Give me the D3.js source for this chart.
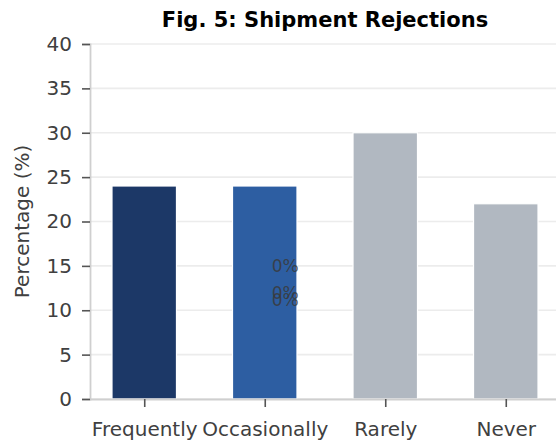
<!DOCTYPE html>
<html>
<head>
<meta charset="utf-8">
<script src="https://cdn.jsdelivr.net/npm/d3@7/dist/d3.min.js"></script>
<style>
  html, body { margin: 0; padding: 0; background: #fff; }
  svg { display: block; font-family: "DejaVu Sans", sans-serif; }
</style>
</head>
<body>
<svg id="chart" width="556" height="443"></svg>
<script>
// Shares of respondents by how often shipments are rejected
const categories = ["Frequently", "Occasionally", "Rarely", "Never"];
const values = [24, 24, 30, 22];
const barColors = ["#1c3867", "#2d5ea2", "#b1b8c1", "#b1b8c1"];
const yTicks = [0, 5, 10, 15, 20, 25, 30, 35, 40];

// Stray percentage annotations (category offset, value)
const noteX = [1.17, 1.17, 1.17];
const noteY = [15, 12, 11.2];
const noteText = ["0%", "0%", "0%"];

const svg = d3.select("#chart");
const margin = { top: 44, bottom: 44 };
const plotBottom = 443 - margin.bottom;

// category index -> pixel (linear, so data-unit bar width can be used)
const x = d3.scaleLinear().domain([-0.45, 3.45]).range([90, 560]);
const y = d3.scaleLinear().domain([0, 40]).range([plotBottom, margin.top]);
const barW = 0.535;

// gridlines
svg.append("g")
  .selectAll("line")
  .data(yTicks)
  .join("line")
  .attr("x1", x(-0.45)).attr("x2", 556)
  .attr("y1", d => y(d)).attr("y2", d => y(d))
  .attr("stroke", "#ececec").attr("stroke-width", 1.6);

// bars
svg.append("g")
  .selectAll("rect")
  .data(values)
  .join("rect")
  .attr("x", (d, i) => x(i - barW / 2))
  .attr("width", (d, i) => x(i + barW / 2) - x(i - barW / 2))
  .attr("y", d => y(d))
  .attr("height", d => y(0) - y(d))
  .attr("fill", (d, i) => barColors[i])
  .attr("stroke", "#ffffff")
  .attr("stroke-width", 1.2);

// y axis
const yAxis = svg.append("g")
  .attr("transform", `translate(${x(-0.45)},0)`)
  .call(d3.axisLeft(y).tickValues(yTicks).tickSize(8).tickPadding(10));
yAxis.select(".domain").attr("stroke", "#cfcfcf").attr("stroke-width", 1.8);
yAxis.selectAll(".tick line").attr("stroke", "#555").attr("stroke-width", 1.6);
yAxis.selectAll(".tick text").attr("fill", "#404040")
  .style("font-size", "20px").style("font-family", "DejaVu Sans, sans-serif");

// x axis
const xAxis = svg.append("g")
  .attr("transform", `translate(0,${plotBottom})`)
  .call(d3.axisBottom(x).tickValues(d3.range(categories.length))
    .tickFormat(i => categories[i]).tickSize(8).tickPadding(15));
xAxis.select(".domain").attr("stroke", "#cfcfcf").attr("stroke-width", 1.8)
  .attr("d", `M${x(-0.45)},0.5H556`);
xAxis.selectAll(".tick line").attr("stroke", "#555").attr("stroke-width", 1.6);
xAxis.selectAll(".tick text").attr("fill", "#404040")
  .style("font-size", "20px").style("font-family", "DejaVu Sans, sans-serif");

// annotations
svg.append("g")
  .selectAll("text")
  .data(noteText)
  .join("text")
  .attr("x", (d, i) => x(noteX[i]))
  .attr("y", (d, i) => y(noteY[i]))
  .attr("text-anchor", "middle")
  .attr("dominant-baseline", "central")
  .attr("fill", "#3a3a3a")
  .attr("fill-opacity", 0.85)
  .style("font-size", "17px")
  .text(d => d);

// y label
svg.append("text")
  .attr("transform", `translate(29,${(y(0) + y(40)) / 2}) rotate(-90)`)
  .attr("text-anchor", "middle")
  .attr("fill", "#404040")
  .style("font-size", "20px")
  .text("Percentage (%)");

// title
svg.append("text")
  .attr("x", 325)
  .attr("y", 27)
  .attr("text-anchor", "middle")
  .attr("fill", "#000")
  .style("font-size", "21px")
  .style("font-weight", "bold")
  .text("Fig. 5: Shipment Rejections");
</script>
</body>
</html>
